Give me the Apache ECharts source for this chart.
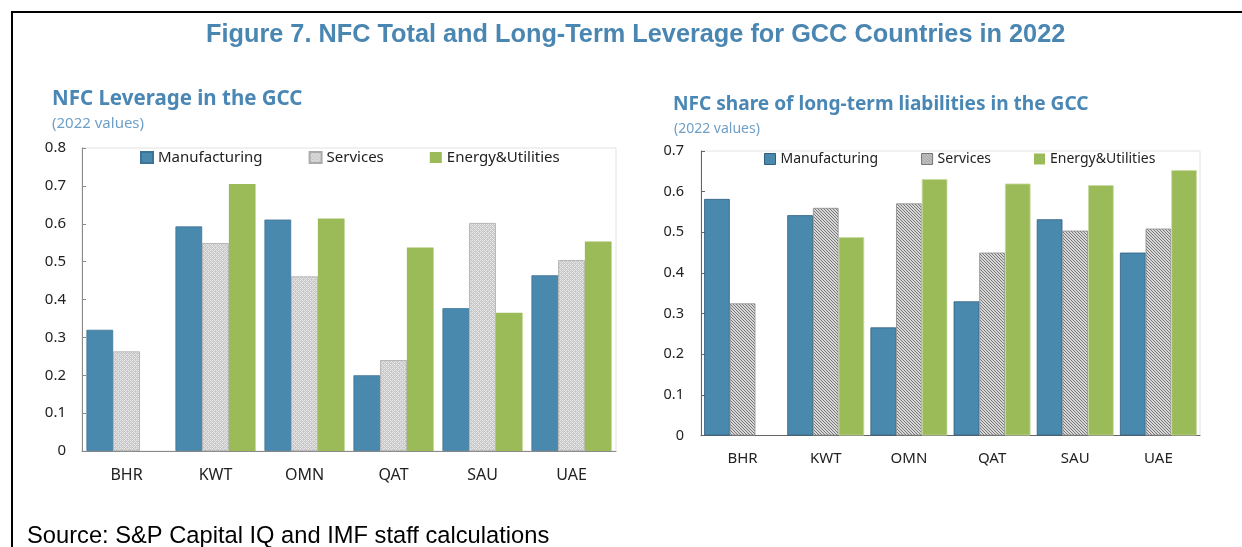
<!DOCTYPE html>
<html><head><meta charset="utf-8">
<script src="https://cdn.jsdelivr.net/npm/echarts@6/dist/echarts.min.js"></script>
<style>html,body{margin:0;padding:0;background:#fff}#c{width:1242px;height:547px}</style>
</head><body><div id="c"></div>
<script>
const categories = ['BHR','KWT','OMN','QAT','SAU','UAE'];
const seriesNames = ['Manufacturing','Services','Energy&Utilities'];
// Left: NFC leverage (2022)
const levManufacturing = [0.32, 0.593, 0.611, 0.20, 0.377, 0.464];
const levServices      = [0.263, 0.549, 0.461, 0.24, 0.602, 0.504];
const levEnergy        = ['-', 0.705, 0.614, 0.537, 0.365, 0.553];
// Right: share of long-term liabilities (2022)
const ltManufacturing = [0.582, 0.542, 0.266, 0.330, 0.532, 0.450];
const ltServices      = [0.325, 0.560, 0.571, 0.450, 0.504, 0.509];
const ltEnergy        = ['-', 0.488, 0.631, 0.620, 0.616, 0.653];

function pattern(bg, fg, size, cells){
  const c = document.createElement('canvas'); c.width = size; c.height = size;
  const g = c.getContext('2d'); g.fillStyle = bg; g.fillRect(0,0,size,size);
  g.fillStyle = fg; cells.forEach(p => g.fillRect(p[0],p[1],1,1));
  return {image: c, repeat: 'repeat'};
}
const lightHatch = pattern('#c9c9c9', '#e6e6e6', 4, [[0,0],[2,2],[1,3],[3,1],[0,2],[2,0]]);
const darkHatch = pattern('#d8d8d8', '#777777', 3, [[0,0],[1,1],[2,2]]);

const BLUE = '#4a89ae', GREEN = '#9bbb59';
const FONT = 'Noto Sans';

function bars(name, data, idx, color, border){
  return {type:'bar', name, data, xAxisIndex:idx, yAxisIndex:idx,
    barGap:'0%', barCategoryGap: idx===0 ? '10%' : '7.5%',
    itemStyle:{color, borderColor:border, borderWidth:border ? 0.8 : 0},
    emphasis:{disabled:true}};
}

const chart = echarts.init(document.getElementById('c'), null, {renderer:'canvas'});
chart.setOption({
  animation:false,
  title:[
    {text:'Figure 7. NFC Total and Long-Term Leverage for GCC Countries in 2022', left:201, top:18,
      textStyle:{fontFamily:'Liberation Sans', fontWeight:'bold', fontSize:25.3, color:'#4a86b2'}},
    {text:'NFC Leverage in the GCC', left:47, top:84,
      textStyle:{fontFamily:FONT, fontWeight:'bold', fontSize:20.5, color:'#4a87b5'}},
    {text:'(2022 values)', left:47, top:111,
      textStyle:{fontFamily:FONT, fontWeight:'normal', fontSize:15, color:'#6f9fc6'}},
    {text:'NFC share of long-term liabilities in the GCC', left:668, top:90,
      textStyle:{fontFamily:FONT, fontWeight:'bold', fontSize:19.1, color:'#4a87b5'}},
    {text:'(2022 values)', left:669, top:117,
      textStyle:{fontFamily:FONT, fontWeight:'normal', fontSize:14, color:'#6f9fc6'}},
    {text:'Source: S&P Capital IQ and IMF staff calculations', left:22, top:519,
      textStyle:{fontFamily:'Liberation Sans', fontWeight:'normal', fontSize:23.7, color:'#000'}}
  ],
  graphic:[
    {type:'line', shape:{x1:11, y1:12, x2:1242, y2:12}, style:{stroke:'#000', lineWidth:2}},
    {type:'line', shape:{x1:12, y1:11, x2:12, y2:547}, style:{stroke:'#000', lineWidth:2}}
  ],
  legend:[
    {left:135, top:145, itemWidth:12, itemHeight:11, itemGap:46, icon:'rect',
      textStyle:{fontFamily:FONT, fontSize:15, color:'#222'},
      data:[{name:seriesNames[0], itemStyle:{color:BLUE}},
            {name:seriesNames[1], itemStyle:{color:lightHatch}},
            {name:seriesNames[2], itemStyle:{color:GREEN}}], selectedMode:false},
    {left:759, top:147, itemWidth:11, itemHeight:11, itemGap:43, icon:'rect',
      textStyle:{fontFamily:FONT, fontSize:14, color:'#222'},
      data:[{name:seriesNames[0], itemStyle:{color:BLUE, borderColor:'#2f5f7c', borderWidth:1}},
            {name:seriesNames[1], itemStyle:{color:darkHatch, borderColor:'#777', borderWidth:1}},
            {name:seriesNames[2], itemStyle:{color:GREEN}}], selectedMode:false}
  ],
  grid:[
    {left:82, top:148, width:534, height:303, show:true, borderColor:'#e2e2e2', borderWidth:1, containLabel:false},
    {left:701, top:151, width:499, height:284.5, show:true, borderColor:'#e2e2e2', borderWidth:1, containLabel:false}
  ],
  xAxis:[
    {type:'category', data:categories, gridIndex:0,
      axisLine:{lineStyle:{color:'#8a8a8a', width:1}},
      axisTick:{inside:true, length:5, lineStyle:{color:'#8a8a8a'}},
      axisLabel:{fontFamily:FONT, fontSize:16, color:'#222', margin:16}},
    {type:'category', data:categories, gridIndex:1,
      axisLine:{lineStyle:{color:'#666', width:1}},
      axisTick:{inside:true, length:5, lineStyle:{color:'#666'}},
      axisLabel:{fontFamily:FONT, fontSize:15, color:'#222', margin:16}}
  ],
  yAxis:[
    {type:'value', gridIndex:0, min:0, max:0.8, interval:0.1,
      axisLine:{show:true, lineStyle:{color:'#8a8a8a'}},
      axisTick:{show:true, inside:true, length:4, lineStyle:{color:'#8a8a8a'}},
      splitLine:{show:false},
      axisLabel:{fontFamily:FONT, fontSize:15, color:'#222', margin:16}},
    {type:'value', gridIndex:1, min:0, max:0.7, interval:0.1,
      axisLine:{show:true, lineStyle:{color:'#666'}},
      axisTick:{show:true, inside:true, length:4, lineStyle:{color:'#666'}},
      splitLine:{show:false},
      axisLabel:{fontFamily:FONT, fontSize:14.5, color:'#222', margin:17}}
  ],
  series:[
    bars(seriesNames[0], levManufacturing, 0, BLUE, '#3d7397'),
    bars(seriesNames[1], levServices, 0, lightHatch, '#aaaaaa'),
    bars(seriesNames[2], levEnergy, 0, GREEN, null),
    bars(seriesNames[0], ltManufacturing, 1, BLUE, '#2f5f7c'),
    bars(seriesNames[1], ltServices, 1, darkHatch, '#8a8a8a'),
    bars(seriesNames[2], ltEnergy, 1, GREEN, '#c9dca4')
  ]
});
</script></body></html>
